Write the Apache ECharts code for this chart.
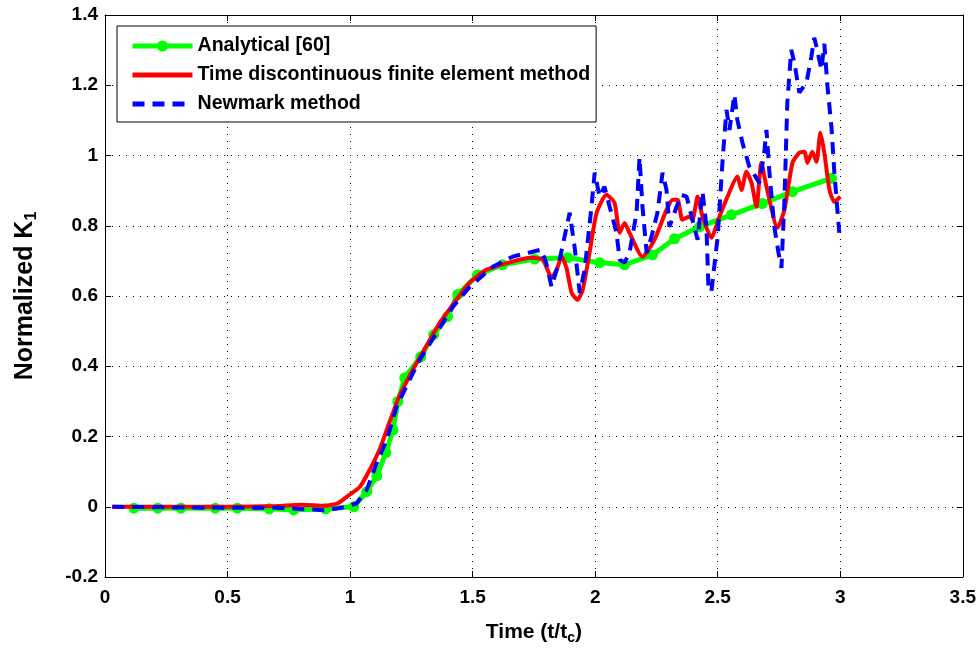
<!DOCTYPE html>
<html>
<head>
<meta charset="utf-8">
<script src="https://cdn.jsdelivr.net/npm/echarts@6/dist/echarts.min.js"></script>
<style>
  html, body { margin: 0; padding: 0; background: #fff; }
  #main { width: 979px; height: 652px; }
</style>
</head>
<body>
<div id="main"></div>
<script>
// values (time t/tc, normalized K1)
const analyticalT = [0.118, 0.216, 0.31, 0.45, 0.54, 0.67, 0.77, 0.9, 1.015, 1.068, 1.109, 1.146, 1.175, 1.195, 1.223, 1.288, 1.341, 1.398, 1.439, 1.52, 1.622, 1.753, 1.888, 2.018, 2.12, 2.234, 2.324, 2.426, 2.556, 2.682, 2.805, 2.964]
const analyticalK = [-0.004, -0.004, -0.004, -0.004, -0.004, -0.006, -0.009, -0.006, 0, 0.043, 0.088, 0.154, 0.219, 0.3, 0.367, 0.427, 0.49, 0.541, 0.604, 0.66, 0.689, 0.705, 0.709, 0.695, 0.689, 0.717, 0.763, 0.797, 0.831, 0.863, 0.897, 0.935]

const tdfemT = [0.03, 0.3, 0.5, 0.7, 0.8, 0.9, 0.95, 0.986, 1.04, 1.08, 1.12, 1.16, 1.2, 1.256, 1.31, 1.366, 1.419, 1.488, 1.557, 1.663, 1.733, 1.786, 1.822, 1.843, 1.863, 1.883, 1.904, 1.928, 1.949, 1.977, 2.006, 2.046, 2.079, 2.1, 2.12, 2.14, 2.193, 2.242, 2.291, 2.316, 2.336, 2.356, 2.385, 2.397, 2.418, 2.438, 2.474, 2.507, 2.54, 2.58, 2.597, 2.617, 2.638, 2.658, 2.678, 2.699, 2.744, 2.772, 2.805, 2.833, 2.854, 2.866, 2.886, 2.903, 2.919, 2.935, 2.956, 2.976, 3.0]
const tdfemK = [0, 0, 0, 0.002, 0.006, 0.003, 0.01, 0.028, 0.057, 0.105, 0.162, 0.239, 0.313, 0.39, 0.456, 0.524, 0.575, 0.638, 0.675, 0.698, 0.709, 0.703, 0.652, 0.675, 0.712, 0.68, 0.609, 0.589, 0.618, 0.723, 0.837, 0.888, 0.865, 0.78, 0.808, 0.78, 0.712, 0.76, 0.845, 0.874, 0.874, 0.817, 0.826, 0.817, 0.883, 0.826, 0.766, 0.826, 0.883, 0.94, 0.902, 0.954, 0.922, 0.854, 0.979, 0.911, 0.794, 0.845, 0.979, 1.008, 1.011, 0.979, 1.011, 0.982, 1.065, 1.008, 0.902, 0.868, 0.883]

const newmarkT = [0.03, 0.3, 0.5, 0.7, 0.9, 0.986, 1.027, 1.068, 1.109, 1.15, 1.19, 1.243, 1.284, 1.353, 1.419, 1.488, 1.582, 1.663, 1.745, 1.78, 1.8, 1.822, 1.855, 1.896, 1.916, 1.937, 1.957, 1.985, 1.998, 2.018, 2.038, 2.059, 2.087, 2.1, 2.12, 2.14, 2.169, 2.181, 2.193, 2.21, 2.23, 2.254, 2.275, 2.291, 2.303, 2.332, 2.352, 2.373, 2.397, 2.418, 2.438, 2.454, 2.462, 2.474, 2.5, 2.52, 2.536, 2.548, 2.568, 2.58, 2.601, 2.629, 2.67, 2.69, 2.699, 2.711, 2.731, 2.748, 2.76, 2.772, 2.784, 2.8, 2.813, 2.833, 2.862, 2.882, 2.894, 2.903, 2.923, 2.935, 2.948, 2.964, 2.976, 2.996]
const newmarkK = [0, -0.002, -0.003, -0.003, -0.01, 0, 0.01, 0.048, 0.125, 0.191, 0.285, 0.362, 0.418, 0.495, 0.569, 0.626, 0.683, 0.712, 0.726, 0.732, 0.695, 0.626, 0.703, 0.837, 0.74, 0.609, 0.675, 0.854, 0.951, 0.883, 0.911, 0.854, 0.78, 0.703, 0.695, 0.723, 0.837, 0.994, 0.854, 0.723, 0.769, 0.837, 0.951, 0.902, 0.797, 0.854, 0.888, 0.883, 0.817, 0.76, 0.897, 0.797, 0.626, 0.612, 0.769, 0.988, 1.13, 1.073, 1.173, 1.102, 1.036, 0.968, 0.922, 1.008, 1.073, 0.951, 0.797, 0.723, 0.68, 0.865, 1.15, 1.301, 1.264, 1.179, 1.207, 1.281, 1.335, 1.31, 1.244, 1.318, 1.196, 1.082, 0.951, 0.78]

const seriesNames = ["Analytical [60]", "Time discontinuous finite element method", "Newmark method"]

const zip = (xs, ys) => xs.map((x, i) => [x, ys[i]])
const font = "Arial, 'Liberation Sans', sans-serif"

const myChart = echarts.init(document.getElementById("main"))

const gridLine = { show: true, lineStyle: { color: "#000", type: [1, 6], width: 1 } }
const frame = { show: true, onZero: false, lineStyle: { color: "#000", width: 1 } }
const tick = { show: true, inside: true, length: 6, lineStyle: { color: "#000" } }
const tickLabel = { color: "#000", fontSize: 19, fontWeight: "bold", fontFamily: font }
const noIcon = { color: "rgba(0,0,0,0)", borderWidth: 0 }

myChart.setOption({
  animation: false,
  backgroundColor: "#fff",
  grid: { left: 105, right: 15, top: 15, bottom: 75 },
  legend: {
    orient: "vertical",
    left: 117,
    top: 26,
    padding: [10, 6, 8, 13],
    itemGap: 9,
    itemWidth: 60,
    itemHeight: 14,
    backgroundColor: "#fff",
    borderColor: "#000",
    borderWidth: 1,
    borderRadius: 0,
    textStyle: { color: "#000", fontSize: 19.6, fontWeight: "bold", fontFamily: font },
    data: [
      { name: seriesNames[0], lineStyle: { width: 5 } },
      { name: seriesNames[1], lineStyle: { width: 5 }, itemStyle: noIcon },
      { name: seriesNames[2], lineStyle: { width: 5 }, itemStyle: noIcon },
    ],
  },
  xAxis: [
    {
      type: "value",
      min: 0,
      max: 3.5,
      interval: 0.5,
      name: "Time (t/t{sub|c})",
      nameLocation: "middle",
      nameGap: 42,
      nameTextStyle: {
        color: "#000", fontSize: 21, fontWeight: "bold", fontFamily: font,
        rich: { sub: { fontSize: 14, fontWeight: "bold", fontFamily: font, verticalAlign: "bottom", padding: [12, 0, 0, 0] } },
      },
      axisLine: frame,
      axisTick: tick,
      axisLabel: { ...tickLabel, margin: 11 },
      splitLine: gridLine,
    },
    {
      type: "value",
      position: "top",
      min: 0,
      max: 3.5,
      interval: 0.5,
      axisLine: frame,
      axisTick: tick,
      axisLabel: { show: false },
      splitLine: { show: false },
    },
  ],
  yAxis: [
    {
      type: "value",
      min: -0.2,
      max: 1.4,
      interval: 0.2,
      name: "Normalized K{sub|1}",
      nameLocation: "middle",
      nameGap: 65,
      nameTextStyle: {
        color: "#000", fontSize: 25, fontWeight: "bold", fontFamily: font,
        rich: { sub: { fontSize: 16, fontWeight: "bold", fontFamily: font, verticalAlign: "bottom", padding: [14, 0, 0, 0] } },
      },
      axisLine: frame,
      axisTick: tick,
      axisLabel: { ...tickLabel, margin: 7 },
      splitLine: gridLine,
    },
    {
      type: "value",
      position: "right",
      min: -0.2,
      max: 1.4,
      interval: 0.2,
      axisLine: frame,
      axisTick: tick,
      axisLabel: { show: false },
      splitLine: { show: false },
    },
  ],
  series: [
    {
      name: seriesNames[0],
      type: "line",
      data: zip(analyticalT, analyticalK),
      symbol: "circle",
      symbolSize: 11,
      showAllSymbol: true,
      color: "#00ff00",
      itemStyle: { color: "#00ff00" },
      lineStyle: { color: "#00ff00", width: 5 },
      z: 2,
    },
    {
      name: seriesNames[1],
      type: "line",
      data: zip(tdfemT, tdfemK),
      symbol: "none",
      smooth: 0.2,
      color: "#ff0000",
      lineStyle: { color: "#ff0000", width: 4 },
      z: 3,
    },
    {
      name: seriesNames[2],
      type: "line",
      data: zip(newmarkT, newmarkK),
      symbol: "none",
      color: "#0000ff",
      lineStyle: { color: "#0000ff", width: 4, type: [12, 8] },
      z: 4,
    },
  ],
})
</script>
</body>
</html>
